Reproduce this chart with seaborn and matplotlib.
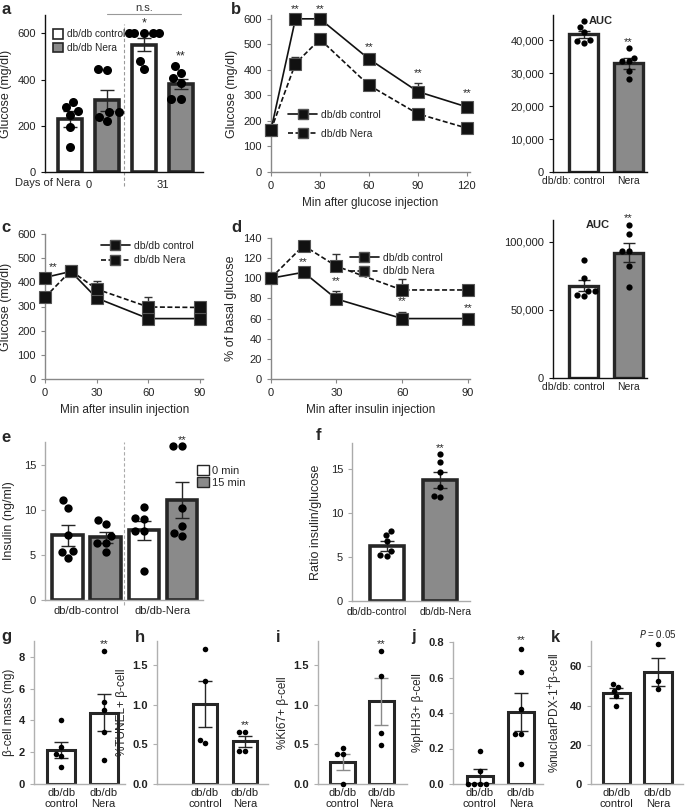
import warnings
warnings.filterwarnings("ignore")
import numpy as np
import pandas as pd
import matplotlib
matplotlib.use("Agg")
import matplotlib.pyplot as plt
import seaborn as sns
from matplotlib.lines import Line2D
from matplotlib.patches import Patch

sns.set_theme(style="ticks")
plt.rcParams["font.family"] = ["Liberation Sans", "DejaVu Sans"]
plt.rcParams["font.size"] = 8
plt.rcParams["axes.linewidth"] = 1.0

# ---------------- data ----------------
# panel a
a_groups = ["ctrl_d0", "nera_d0", "ctrl_d31", "nera_d31"]
a_means = [230, 310, 552, 382]
a_sems = [33, 45, 30, 22]
a_points = [[305, 265, 280, 245, 195, 110],
            [445, 440, 262, 258, 220, 240],
            [600, 600, 600, 600, 600, 480, 445],
            [460, 430, 405, 385, 315, 315]]
a_days = ["0", "31"]

# panel b (IPGTT)
b_time = [0, 15, 30, 60, 90, 120]
b_ctrl = [165, 600, 600, 443, 315, 255]
b_ctrl_err = [0, 0, 0, 10, 35, 18]
b_nera = [165, 425, 520, 340, 228, 172]
b_nera_err = [0, 25, 20, 10, 15, 8]
b_star_times = [15, 30, 60, 90, 120]

# AUC glucose
auc1_labels = ["db/db: control", "Nera"]
auc1_means = [41700, 32900]
auc1_sems = [1200, 1600]
auc1_points = [[44000, 45700, 42400, 39200, 39900, 39700],
               [37700, 34700, 33700, 33700, 30650, 28100]]

# panel c (ITT)
c_time = [0, 15, 30, 60, 90]
c_ctrl = [420, 445, 335, 250, 250]
c_ctrl_err = [0, 0, 0, 0, 0]
c_nera = [338, 448, 372, 298, 296]
c_nera_err = [0, 0, 35, 40, 0]

# panel d (% basal)
d_time = [0, 15, 30, 60, 90]
d_ctrl = [100, 106, 79.5, 60, 60]
d_ctrl_err = [0, 0, 8, 7, 0]
d_nera = [100, 132.5, 112, 88.4, 88.4]
d_nera_err = [0, 0, 12.5, 11, 0]
d_star_times = [15, 30, 60, 90]

# AUC ITT
auc2_labels = ["db/db: control", "Nera"]
auc2_means = [67900, 91900]
auc2_sems = [4300, 6900]
auc2_points = [[87000, 73300, 64200, 60500, 61300, 63700],
               [112000, 105400, 93100, 93100, 82100, 66700]]

# panel e (insulin)
e_groups = ["c0", "c15", "n0", "n15"]
e_means = [7.2, 7.0, 7.75, 11.15]
e_sems = [1.15, 0.6, 1.05, 2.0]
e_points = [[11.1, 10.3, 7.25, 5.45, 5.4, 4.7],
            [8.5, 8.9, 7.1, 6.4, 6.4, 5.4],
            [10.4, 9.0, 9.1, 7.7, 7.7, 3.25],
            [17.2, 17.2, 10.3, 8.2, 7.5, 7.15]]
e_xlabels = ["db/db-control", "db/db-Nera"]
e_legend = ["0 min", "15 min"]

# panel f
f_labels = ["db/db-control", "db/db-Nera"]
f_means = [6.3, 13.8]
f_sems = [0.55, 0.9]
f_points = [[8.0, 7.55, 6.85, 5.65, 5.2, 5.1],
            [16.7, 15.8, 14.7, 13.0, 12.0, 11.8]]

# bottom row
bottom_labels = ["db/db\ncontrol", "db/db\nNera"]
g_means = [2.15, 4.5]
g_sems = [0.52, 1.18]
g_points = [[4.03, 2.36, 1.9, 1.77, 1.06], [8.37, 5.14, 4.66, 3.26, 1.52]]
h_means = [1.01, 0.535]
h_sems = [0.29, 0.07]
h_points = [[1.7, 1.3, 0.55, 0.51], [0.66, 0.66, 0.42, 0.41]]
i_means = [0.28, 1.04]
i_sems = [0.1, 0.3]
i_points = [[0.45, 0.38, 0.38, 0.0], [1.68, 1.36, 0.64, 0.49]]
j_means = [0.047, 0.405]
j_sems = [0.04, 0.105]
j_points = [[0.187, 0.075, 0.0, 0.0, 0.0, 0.0], [0.76, 0.63, 0.42, 0.28, 0.28, 0.11]]
k_means = [46.4, 57.0]
k_sems = [2.5, 7.2]
k_points = [[51.3, 49.6, 47.5, 45.0, 39.7], [71.4, 52.4, 48.7]]

# ---------------- layout helpers ----------------
W, H = 685, 810
fig = plt.figure(figsize=(W / 100, H / 100), dpi=100)
DARK = "#262626"
GREY_FILL = "#8a8a8a"
WHITE = "#ffffff"


def add_ax(l, t, r, b):
    return fig.add_axes([l / W, 1 - b / H, (r - l) / W, (b - t) / H])


def letter(x, y, s):
    fig.text(x / W, 1 - y / H, s, fontsize=12, fontweight="bold", va="center", ha="left")


def style_axes(ax, spine_color, label_color="#222222"):
    sns.despine(ax=ax)
    for s in ["left", "bottom"]:
        ax.spines[s].set_color(spine_color)
    ax.tick_params(axis="both", colors=spine_color, labelcolor=label_color,
                   labelsize=8, length=3, width=0.8)


def bar_panel(ax, groups, means, sems, points, colors, width, dot_size,
              edge_lw=2.2, ecolor=DARK, capsize=4):
    df = pd.DataFrame({"g": groups, "m": means})
    sns.barplot(data=df, x="g", y="m", hue="g", order=groups, hue_order=groups,
                palette=colors, legend=False, width=width, saturation=1,
                edgecolor=DARK, linewidth=edge_lw, ax=ax, zorder=2)
    ax.errorbar(np.arange(len(means)), means, yerr=sems, fmt="none",
                ecolor=ecolor, elinewidth=1.0, capsize=capsize, capthick=1.0, zorder=3)
    pts = pd.DataFrame({"g": np.repeat(groups, [len(p) for p in points]),
                        "v": np.concatenate(points)})
    sns.swarmplot(data=pts, x="g", y="v", order=groups, color="black",
                  size=dot_size, ax=ax, zorder=4, clip_on=False)
    ax.set_xlabel("")
    ax.set_ylabel("")


def line_panel(ax, t, ctrl, ctrl_err, nera, nera_err):
    for y, e, ls in [(ctrl, ctrl_err, "-"), (nera, nera_err, (0, (3, 1.5)))]:
        ax.errorbar(t, y, yerr=[np.zeros(len(e)), e], fmt="none",
                    ecolor="#333333", elinewidth=1.0, capsize=3, capthick=1.0, zorder=2)
        sns.lineplot(x=t, y=y, ax=ax, color="#111111", linestyle=ls, linewidth=1.2,
                     marker="s", markersize=8, markeredgecolor="#555555",
                     markeredgewidth=0.8, clip_on=False, zorder=3)
    ax.set_xlabel("")
    ax.set_ylabel("")


def line_handles():
    return [Line2D([], [], color="#111111", lw=1.2, ls="-", marker="s", markersize=7,
                   markeredgecolor="#555555"),
            Line2D([], [], color="#111111", lw=1.2, ls=(0, (3, 1.5)), marker="s",
                   markersize=7, markeredgecolor="#555555")]


# ---------------- panel a ----------------
ax = add_ax(45, 15, 203, 172)
bar_panel(ax, a_groups, a_means, a_sems, a_points, [WHITE, GREY_FILL, WHITE, GREY_FILL],
          0.65, 6.5, edge_lw=2.6, capsize=5)
ax.set_xlim(-0.68, 3.6)
ax.set_ylim(0, 680)
ax.set_yticks([0, 200, 400, 600])
ax.set_xticks([0.5, 2.5])
ax.set_xticklabels(a_days)
style_axes(ax, "#111111")
ax.tick_params(axis="x", length=0, pad=6)
ax.set_ylabel("Glucose (mg/dl)", fontsize=9, labelpad=4)
ax.plot([1.46, 1.46], [-60, 640], ls=(0, (3, 2)), color="#999999", lw=0.8, clip_on=False)
ax.plot([1.0, 3.0], [683, 683], color="#999999", lw=0.8, clip_on=False)
ax.text(2.0, 690, "n.s.", ha="center", va="bottom", fontsize=8, color="#333333")
ax.text(2, max(a_points[2]) + 18, "*", ha="center", va="bottom", fontsize=9)
ax.text(3, max(a_points[3]) + 14, "**", ha="center", va="bottom", fontsize=9)
fig.text(15 / W, 1 - 183 / H, "Days of Nera", fontsize=8, va="center", ha="left")
ax.legend(handles=[Patch(facecolor=WHITE, edgecolor=DARK, lw=1.2),
                   Patch(facecolor=GREY_FILL, edgecolor=DARK, lw=1.2)],
          labels=["db/db control", "db/db Nera"], loc="upper left",
          bbox_to_anchor=(0.02, 0.94), frameon=False, fontsize=7.3,
          handlelength=1.0, handleheight=1.0, handletextpad=0.35, labelspacing=0.3,
          borderpad=0)
letter(1, 9, "a")

# ---------------- panel b ----------------
ax = add_ax(271, 15, 470, 172)
line_panel(ax, b_time, b_ctrl, b_ctrl_err, b_nera, b_nera_err)
ax.set_xlim(0, 122)
ax.set_ylim(0, 615)
ax.set_xticks([0, 30, 60, 90, 120])
ax.set_yticks(range(0, 601, 100))
style_axes(ax, "#888888")
ax.set_xlabel("Min after glucose injection", fontsize=8.5)
ax.set_ylabel("Glucose (mg/dl)", fontsize=9, labelpad=4)
for tt in b_star_times:
    i = b_time.index(tt)
    ax.text(tt, b_ctrl[i] + b_ctrl_err[i] + 18, "**", ha="center", va="bottom", fontsize=8)
ax.legend(handles=line_handles(), labels=["db/db control", "db/db Nera"],
          loc="upper left", bbox_to_anchor=(0.06, 0.43), frameon=False, fontsize=7.5,
          handlelength=2.8, handletextpad=0.4, labelspacing=0.9, borderpad=0)
letter(231, 9, "b")

# ---------------- AUC top ----------------
ax = add_ax(553, 15, 647, 172)
bar_panel(ax, [0, 1], auc1_means, auc1_sems, auc1_points, [WHITE, GREY_FILL], 0.64, 4.5,
          edge_lw=2.4, capsize=4)
ax.set_xlim(-0.68, 1.41)
ax.set_ylim(0, 47600)
ax.set_yticks(range(0, 40001, 10000))
ax.set_yticklabels(["0", "10,000", "20,000", "30,000", "40,000"])
ax.set_xticks([-0.23, 0.99])
ax.set_xticklabels(auc1_labels, fontsize=7.5)
style_axes(ax, "#111111")
ax.tick_params(axis="x", length=0, pad=3, labelsize=7.5)
ax.text(0.12, 45700, "AUC", fontsize=8, fontweight="bold", va="center", ha="left")
ax.text(1, max(auc1_points[1]) + 300, "**", ha="center", va="bottom", fontsize=8)

# ---------------- panel c ----------------
ax = add_ax(45, 234, 203.4, 379)
line_panel(ax, c_time, c_ctrl, c_ctrl_err, c_nera, c_nera_err)
ax.set_xlim(0, 92)
ax.set_ylim(0, 600)
ax.set_xticks([0, 30, 60, 90])
ax.set_yticks(range(0, 601, 100))
style_axes(ax, "#888888")
ax.set_xlabel("Min after insulin injection", fontsize=8.5)
ax.set_ylabel("Glucose (mg/dl)", fontsize=9, labelpad=4)
ax.text(4.5, c_ctrl[0] + 22, "**", ha="center", va="bottom", fontsize=8)
ax.legend(handles=line_handles(), labels=["db/db control", "db/db Nera"],
          loc="upper left", bbox_to_anchor=(0.32, 0.99), frameon=False, fontsize=7.5,
          handlelength=2.8, handletextpad=0.4, labelspacing=0.45, borderpad=0)
letter(1, 228, "c")

# ---------------- panel d ----------------
ax = add_ax(270.7, 238, 470, 379)
line_panel(ax, d_time, d_ctrl, d_ctrl_err, d_nera, d_nera_err)
ax.set_xlim(0, 91)
ax.set_ylim(0, 140)
ax.set_xticks([0, 30, 60, 90])
ax.set_yticks(range(0, 141, 20))
style_axes(ax, "#888888")
ax.set_xlabel("Min after insulin injection", fontsize=8.5)
ax.set_ylabel("% of basal glucose", fontsize=9, labelpad=4)
for tt in d_star_times:
    i = d_time.index(tt)
    ax.text(tt, d_ctrl[i] + d_ctrl_err[i] + 5, "**", ha="center", va="bottom", fontsize=8)
ax.legend(handles=line_handles(), labels=["db/db control", "db/db Nera"],
          loc="upper left", bbox_to_anchor=(0.37, 0.93), frameon=False, fontsize=7.5,
          handlelength=2.8, handletextpad=0.4, labelspacing=0.3, borderpad=0)
letter(231, 228, "d")

# ---------------- AUC middle ----------------
ax = add_ax(553, 220, 647, 378)
bar_panel(ax, [0, 1], auc2_means, auc2_sems, auc2_points, [WHITE, GREY_FILL], 0.64, 4.5,
          edge_lw=2.4, capsize=4)
ax.set_xlim(-0.68, 1.41)
ax.set_ylim(0, 116000)
ax.set_yticks([0, 50000, 100000])
ax.set_yticklabels(["0", "50,000", "100,000"])
ax.set_xticks([-0.23, 0.99])
ax.set_xticklabels(auc2_labels, fontsize=7.5)
style_axes(ax, "#111111")
ax.tick_params(axis="x", length=0, pad=3, labelsize=7.5)
ax.text(0.32, 112000, "AUC", fontsize=8, fontweight="bold", va="center", ha="center")
ax.text(1, max(auc2_points[1]) + 1500, "**", ha="center", va="bottom", fontsize=8)

# ---------------- panel e ----------------
ax = add_ax(45, 442, 203, 600)
bar_panel(ax, e_groups, e_means, e_sems, e_points, [WHITE, GREY_FILL, WHITE, GREY_FILL],
          0.8, 6, edge_lw=2.6, capsize=5)
ax.set_xlim(-0.59, 3.55)
ax.set_ylim(0, 17.6)
ax.set_yticks([0, 5, 10, 15])
ax.set_xticks([0.5, 2.5])
ax.set_xticklabels(e_xlabels)
style_axes(ax, "#aaaaaa")
ax.tick_params(axis="x", length=0, pad=4)
ax.set_ylabel("Insulin (ng/ml)", fontsize=9, labelpad=6)
ax.plot([1.48, 1.48], [-0.6, 17.6], ls=(0, (3, 2)), color="#aaaaaa", lw=0.8, clip_on=False)
ax.text(3, max(e_points[3]) + 0.1, "**", ha="center", va="bottom", fontsize=8)
ax.legend(handles=[Patch(facecolor=WHITE, edgecolor=DARK, lw=1.0),
                   Patch(facecolor=GREY_FILL, edgecolor=DARK, lw=1.0)],
          labels=e_legend, loc="upper left", bbox_to_anchor=(0.93, 0.89),
          frameon=False, fontsize=8, handlelength=1.0, handleheight=1.0,
          handletextpad=0.3, labelspacing=0.1, borderpad=0)
letter(1, 437, "e")

# ---------------- panel f ----------------
ax = add_ax(352, 443, 470, 601)
bar_panel(ax, f_labels, f_means, f_sems, f_points, [WHITE, GREY_FILL], 0.64, 4.5,
          edge_lw=2.6, capsize=5)
ax.set_xlim(-0.66, 1.57)
ax.set_ylim(0, 18)
ax.set_yticks([0, 5, 10, 15])
ax.set_xticks([-0.2, 1.1])
ax.set_xticklabels(f_labels)
style_axes(ax, "#aaaaaa")
ax.tick_params(axis="x", length=0, pad=4, labelsize=7.5)
ax.set_ylabel("Ratio insulin/glucose", fontsize=9, labelpad=6)
ax.text(1, max(f_points[1]) + 0.1, "**", ha="center", va="bottom", fontsize=8)
letter(316, 435, "f")

# ---------------- bottom row ----------------
bottom_specs = [
    (34, 125, 9.0, [0, 2, 4, 6, 8], ["0", "2", "4", "6", "8"], g_means, g_sems, g_points,
     "β-cell mass (mg)", 1, "g", (-0.64, 1.5), 0.66),
    (157, 268, 1.8, [0, 0.5, 1.0, 1.5], ["0.0", "0.5", "1.0", "1.5"], h_means, h_sems, h_points,
     "%TUNEL+ β-cell", 135, "h", (-1.2, 1.58), 0.6),
    (318, 407, 1.8, [0, 0.5, 1.0, 1.5], ["0.0", "0.5", "1.0", "1.5"], i_means, i_sems, i_points,
     "%Ki67+ β-cell", 276, "i", (-0.64, 1.67), 0.65),
    (453, 543, 0.8, [0, 0.2, 0.4, 0.6, 0.8], ["0.0", "0.2", "0.4", "0.6", "0.8"], j_means, j_sems,
     j_points, "%pHH3+ β-cell", 411, "j", (-0.65, 1.54), 0.63),
    (591, 683, 73, [0, 20, 40, 60], ["0", "20", "40", "60"], k_means, k_sems, k_points,
     "%nuclearPDX-1$^{+}$β-cell", 551, "k", (-0.61, 1.6), 0.66),
]
bottom_axes = []
for (l, r, ymax, yt, ytl, means, sems, pts, ylab, lx, let, xl, wd) in bottom_specs:
    top = 641 if let != "j" else 642
    ax = add_ax(l, top, r, 784)
    ecol = "#8a8a8a" if let == "i" else DARK
    bar_panel(ax, bottom_labels, means, sems, pts, [WHITE, WHITE], wd, 4,
              edge_lw=2.2, ecolor=ecol, capsize=5)
    ax.set_xlim(*xl)
    ax.set_ylim(0, ymax)
    ax.set_yticks(yt)
    ax.set_yticklabels(ytl)
    ax.set_xticks([0, 1])
    ax.set_xticklabels(bottom_labels, linespacing=1.15)
    style_axes(ax, "#b0b0b0")
    ax.tick_params(axis="x", length=0, pad=3)
    plt.setp(ax.get_yticklabels(), fontweight="bold")
    ax.set_ylabel(ylab, fontsize=8.5, labelpad=3)
    letter(lx, 637, let)
    bottom_axes.append(ax)

gx, hx, ix, jx, kx = bottom_axes
gx.text(1, max(g_points[1]) + 0.1, "**", ha="center", va="bottom", fontsize=8)
hx.text(1, max(h_points[1]) + 0.02, "**", ha="center", va="bottom", fontsize=8)
ix.text(1, max(i_points[1]) + 0.02, "**", ha="center", va="bottom", fontsize=8)
jx.text(1, max(j_points[1]) + 0.02, "**", ha="center", va="bottom", fontsize=8)
kx.text(1, max(k_points[1]) + 2.0, "$\\it{P}$ = 0.05", ha="center", va="bottom", fontsize=7)

fig.savefig("out.png", dpi=100)
